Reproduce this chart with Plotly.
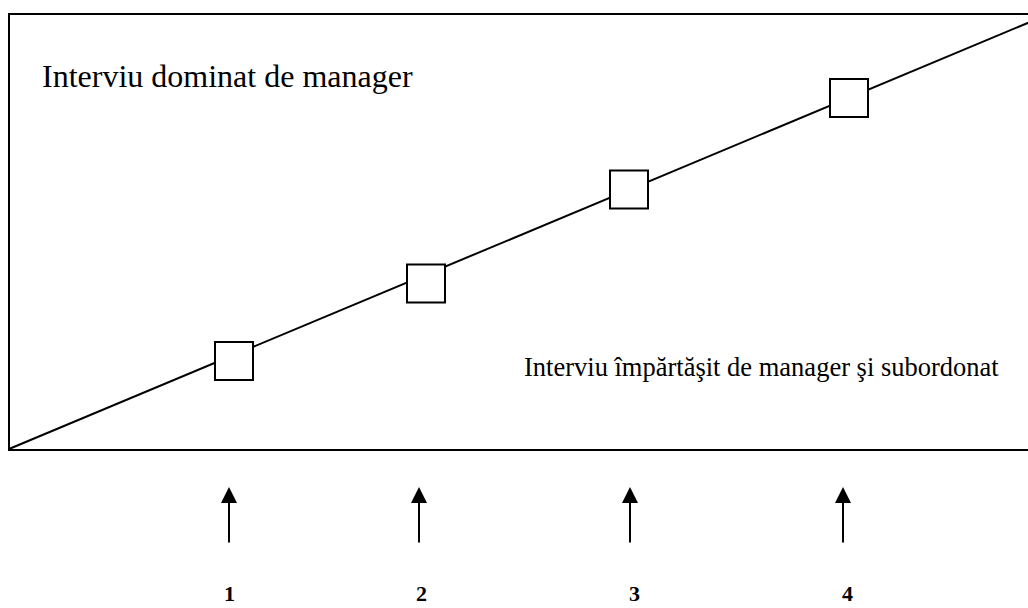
import plotly.graph_objects as go

# ---- data ----
stage_labels = ["1", "2", "3", "4"]
arrow_x = [229, 419, 630, 843]          # stage arrow positions
label_x = [229, 421, 634, 847]          # stage number positions
square_x = [234, 426, 629, 849]         # interview markers on the trend line
square_y = [361, 283.5, 189.5, 98]
trend_x = [9, 1030]
trend_y = [449, 22]
frame_x = [1030, 9, 9, 1030]
frame_y = [14, 14, 450, 450]
arrow_tip_y = 487
arrow_tail_y = 544
label_y = 593
text_top = "Interviu dominat de manager"
text_bottom = "Interviu împărtăşit de manager şi subordonat"

FONT = "Liberation Serif, Times New Roman, serif"

fig = go.Figure()

# frame
fig.add_trace(go.Scatter(x=frame_x, y=frame_y, mode="lines",
                         line=dict(color="black", width=2), hoverinfo="skip"))
# trend line
fig.add_trace(go.Scatter(x=trend_x, y=trend_y, mode="lines",
                         line=dict(color="black", width=2), hoverinfo="skip"))
# square markers
fig.add_trace(go.Scatter(x=square_x, y=square_y, mode="markers",
                         marker=dict(symbol="square", size=38, color="white",
                                     line=dict(color="black", width=2)),
                         hoverinfo="skip"))

annotations = []
for ax_, lx, lab in zip(arrow_x, label_x, stage_labels):
    annotations.append(dict(x=ax_, y=arrow_tip_y, ax=ax_, ay=arrow_tail_y,
                            xref="x", yref="y", axref="x", ayref="y",
                            showarrow=True, arrowhead=2, arrowwidth=2,
                            arrowsize=1.6, arrowcolor="black", standoff=0, text=""))
    annotations.append(dict(x=lx, y=label_y, xref="x", yref="y", text="<b>" + lab + "</b>",
                            showarrow=False, xanchor="center", yanchor="middle",
                            font=dict(family=FONT, size=22, color="black")))

annotations.append(dict(x=40, y=76, xref="x", yref="y", text=text_top,
                        showarrow=False, xanchor="left", yanchor="middle",
                        font=dict(family=FONT, size=32, color="black")))
annotations.append(dict(x=522, y=367, xref="x", yref="y", text=text_bottom,
                        showarrow=False, xanchor="left", yanchor="middle",
                        font=dict(family=FONT, size=26.5, color="black")))

fig.update_layout(
    width=1028, height=608,
    margin=dict(l=0, r=0, t=0, b=0),
    paper_bgcolor="white", plot_bgcolor="white",
    showlegend=False,
    xaxis=dict(range=[0, 1028], visible=False, fixedrange=True),
    yaxis=dict(range=[608, 0], visible=False, fixedrange=True),
    annotations=annotations,
)

fig.write_html("out.html", config={"displayModeBar": False},
               post_script="document.body.style.margin='0';document.body.style.overflow='hidden';")
